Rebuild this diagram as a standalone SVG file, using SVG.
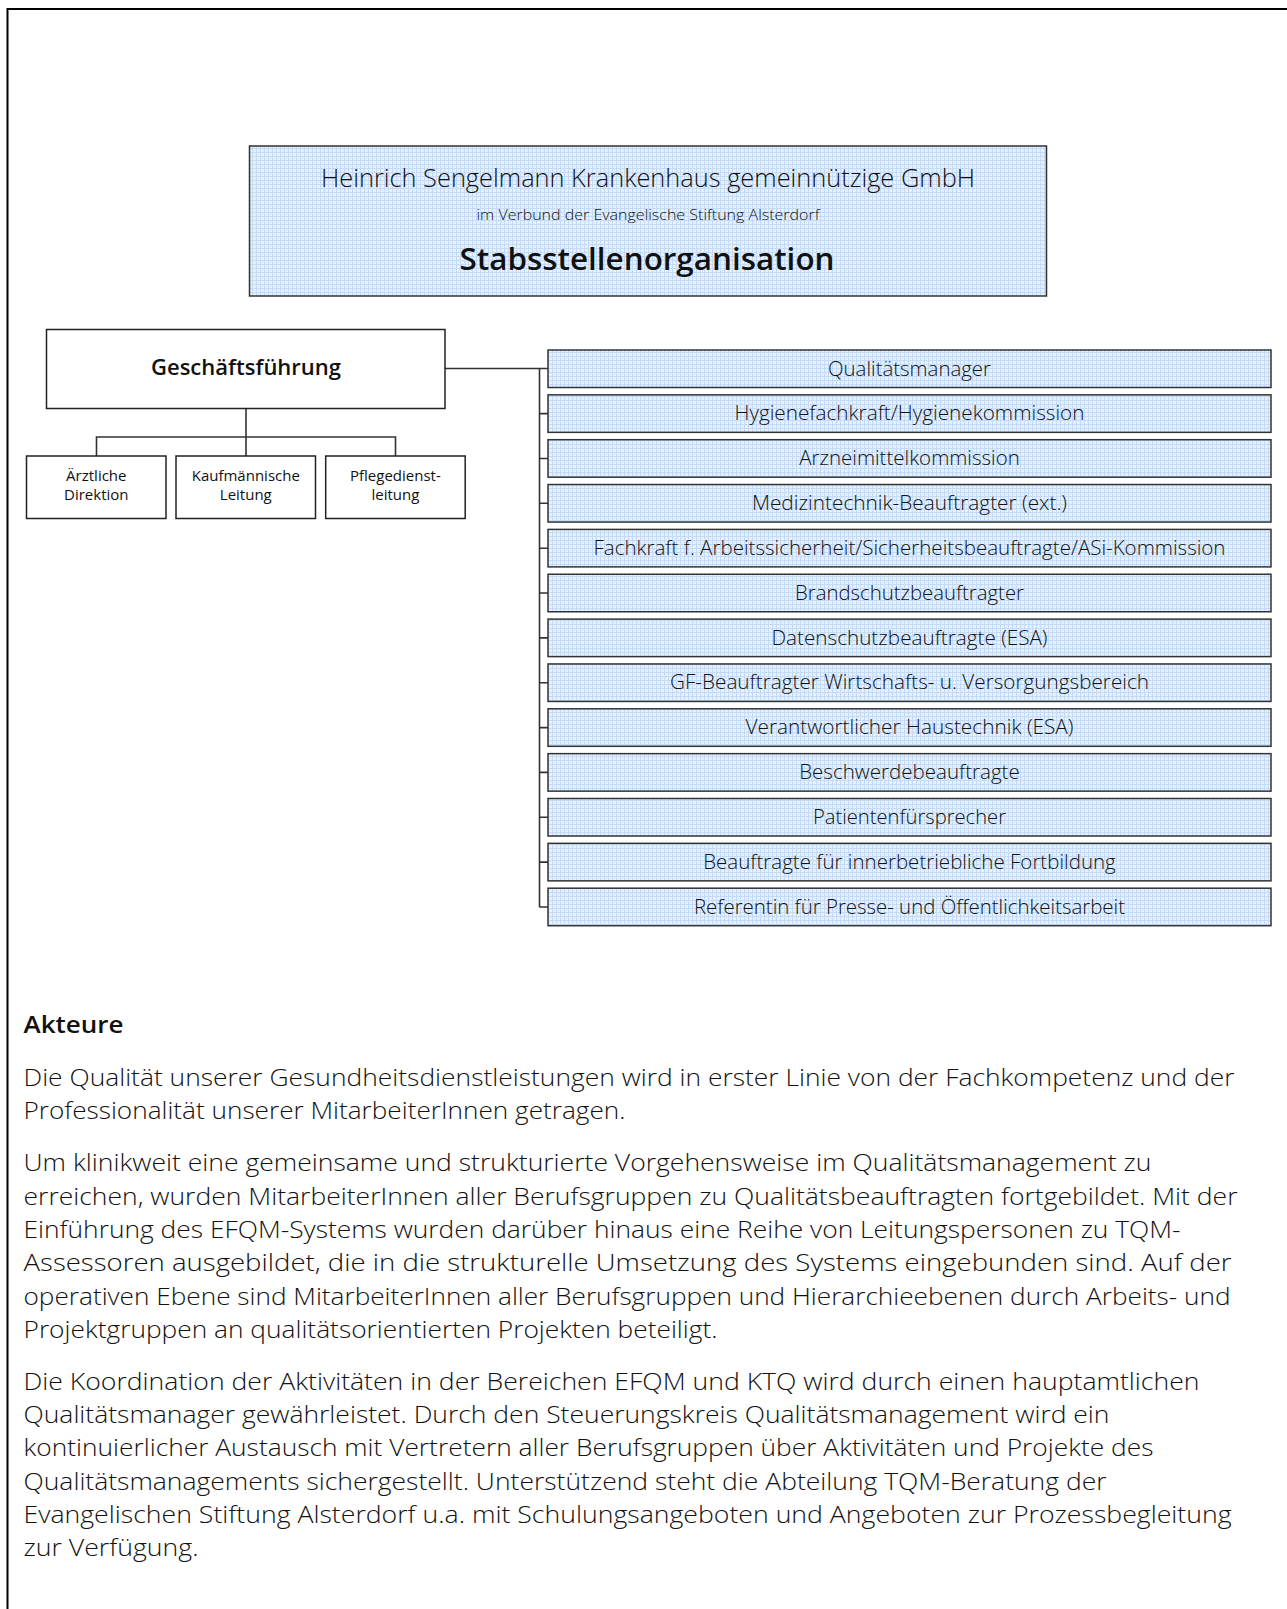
<svg xmlns="http://www.w3.org/2000/svg" width="1287" height="1609" viewBox="0 0 1287 1609">
<defs>
<pattern id="grid" width="4" height="4" patternUnits="userSpaceOnUse">
<rect width="4" height="4" fill="#e6f0fc"/>
<path d="M0 0.5H4M0.5 0V4" stroke="#c3dbf6" stroke-width="1"/>
</pattern>
</defs>
<style>
text{font-family:"Open Sans","Noto Sans","Liberation Sans",sans-serif;fill:#111}
.blue{fill:url(#grid);stroke:#333;stroke-width:1.5}
.plain{fill:#fff;stroke:#222;stroke-width:1.5}
.lbl{font-size:19.5px;text-anchor:middle;font-weight:300}
.sub{font-size:15px;text-anchor:middle}
.body{font-size:23px;font-weight:300}
.conn{stroke:#333;stroke-width:1.6;fill:none}
</style>
<rect width="1287" height="1609" fill="#fff"/>
<rect x="7.5" y="9" width="1300" height="1700" fill="none" stroke="#000" stroke-width="2"/>

<g id="header">
<rect class="blue" x="249.5" y="146" width="797" height="150"/>
<text x="648" y="187" font-size="25" font-weight="300" text-anchor="middle" textLength="654" lengthAdjust="spacingAndGlyphs">Heinrich Sengelmann Krankenhaus gemeinnützige GmbH</text>
<text x="648" y="219.5" font-size="14.5" font-weight="300" text-anchor="middle" textLength="343" lengthAdjust="spacingAndGlyphs">im Verbund der Evangelische Stiftung Alsterdorf</text>
<text x="647" y="270" font-size="31" font-weight="600" text-anchor="middle" textLength="375" lengthAdjust="spacingAndGlyphs">Stabsstellenorganisation</text>
</g>

<g id="connectors">
<path class="conn" d="M246 408.5V437M96.5 456V437H395.5V456M246 437V456"/>
<path class="conn" d="M445 368.5H548M539.5 368.5V907.2"/>
<path class="conn" d="M539.5 413.6H548M539.5 458.5H548M539.5 503.3H548M539.5 548.2H548M539.5 593H548M539.5 637.9H548M539.5 682.7H548M539.5 727.6H548M539.5 772.4H548M539.5 817.3H548M539.5 862.1H548M539.5 907H548"/>
</g>

<g id="gf">
<rect class="plain" x="46.5" y="329.5" width="398.5" height="79"/>
<text x="246" y="375" font-size="21.5" font-weight="600" text-anchor="middle" textLength="190" lengthAdjust="spacingAndGlyphs">Geschäftsführung</text>
</g>
<g id="aerztl">
<rect class="plain" x="26.5" y="456" width="139.5" height="62.5"/>
<text class="sub" x="96.3" y="481">Ärztliche</text>
<text class="sub" x="96.3" y="499.5">Direktion</text>
</g>
<g id="kaufm">
<rect class="plain" x="176" y="456" width="139.5" height="62.5"/>
<text class="sub" x="245.8" y="481">Kaufmännische</text>
<text class="sub" x="245.8" y="499.5">Leitung</text>
</g>
<g id="pflege">
<rect class="plain" x="325.7" y="456" width="139.5" height="62.5"/>
<text class="sub" x="395.4" y="481">Pflegedienst-</text>
<text class="sub" x="395.4" y="499.5">leitung</text>
</g>

<g id="s1"><rect class="blue" x="548" y="350" width="723" height="37.5"/><text class="lbl" x="909.5" y="375.5" textLength="163" lengthAdjust="spacingAndGlyphs">Qualitätsmanager</text></g>
<g id="s2"><rect class="blue" x="548" y="394.85" width="723" height="37.5"/><text class="lbl" x="909.5" y="420.35" textLength="350" lengthAdjust="spacingAndGlyphs">Hygienefachkraft/Hygienekommission</text></g>
<g id="s3"><rect class="blue" x="548" y="439.7" width="723" height="37.5"/><text class="lbl" x="909.5" y="465.2" textLength="220.6" lengthAdjust="spacingAndGlyphs">Arzneimittelkommission</text></g>
<g id="s4"><rect class="blue" x="548" y="484.55" width="723" height="37.5"/><text class="lbl" x="909.5" y="510.05" textLength="315" lengthAdjust="spacingAndGlyphs">Medizintechnik-Beauftragter (ext.)</text></g>
<g id="s5"><rect class="blue" x="548" y="529.4" width="723" height="37.5"/><text class="lbl" x="909.5" y="554.9" textLength="632" lengthAdjust="spacingAndGlyphs">Fachkraft f. Arbeitssicherheit/Sicherheitsbeauftragte/ASi-Kommission</text></g>
<g id="s6"><rect class="blue" x="548" y="574.25" width="723" height="37.5"/><text class="lbl" x="909.5" y="599.75" textLength="229" lengthAdjust="spacingAndGlyphs">Brandschutzbeauftragter</text></g>
<g id="s7"><rect class="blue" x="548" y="619.1" width="723" height="37.5"/><text class="lbl" x="909.5" y="644.6" textLength="276" lengthAdjust="spacingAndGlyphs">Datenschutzbeauftragte (ESA)</text></g>
<g id="s8"><rect class="blue" x="548" y="663.95" width="723" height="37.5"/><text class="lbl" x="909.5" y="689.45" textLength="479" lengthAdjust="spacingAndGlyphs">GF-Beauftragter Wirtschafts- u. Versorgungsbereich</text></g>
<g id="s9"><rect class="blue" x="548" y="708.8" width="723" height="37.5"/><text class="lbl" x="909.5" y="734.3" textLength="328" lengthAdjust="spacingAndGlyphs">Verantwortlicher Haustechnik (ESA)</text></g>
<g id="s10"><rect class="blue" x="548" y="753.65" width="723" height="37.5"/><text class="lbl" x="909.5" y="779.15" textLength="220.6" lengthAdjust="spacingAndGlyphs">Beschwerdebeauftragte</text></g>
<g id="s11"><rect class="blue" x="548" y="798.5" width="723" height="37.5"/><text class="lbl" x="909.5" y="824" textLength="193" lengthAdjust="spacingAndGlyphs">Patientenfürsprecher</text></g>
<g id="s12"><rect class="blue" x="548" y="843.35" width="723" height="37.5"/><text class="lbl" x="909.5" y="868.85" textLength="412.6" lengthAdjust="spacingAndGlyphs">Beauftragte für innerbetriebliche Fortbildung</text></g>
<g id="s13"><rect class="blue" x="548" y="888.2" width="723" height="37.5"/><text class="lbl" x="909.5" y="913.7" textLength="431" lengthAdjust="spacingAndGlyphs">Referentin für Presse- und Öffentlichkeitsarbeit</text></g>

<g id="text">
<text x="23.5" y="1033" font-size="24" font-weight="600" textLength="100" lengthAdjust="spacingAndGlyphs">Akteure</text>
<text class="body" x="23.5" y="1086" textLength="1211" lengthAdjust="spacingAndGlyphs">Die Qualität unserer Gesundheitsdienstleistungen wird in erster Linie von der Fachkompetenz  und der</text>
<text class="body" x="23.5" y="1119" textLength="602" lengthAdjust="spacingAndGlyphs">Professionalität unserer MitarbeiterInnen getragen.</text>
<text class="body" x="23.5" y="1171" textLength="1128" lengthAdjust="spacingAndGlyphs">Um klinikweit eine gemeinsame und strukturierte Vorgehensweise im Qualitätsmanagement zu</text>
<text class="body" x="23.5" y="1204.5" textLength="1214" lengthAdjust="spacingAndGlyphs">erreichen, wurden MitarbeiterInnen aller Berufsgruppen zu Qualitätsbeauftragten fortgebildet. Mit der</text>
<text class="body" x="23.5" y="1238" textLength="1157" lengthAdjust="spacingAndGlyphs">Einführung des EFQM-Systems wurden darüber hinaus eine Reihe von Leitungspersonen zu TQM-</text>
<text class="body" x="23.5" y="1271" textLength="1208" lengthAdjust="spacingAndGlyphs">Assessoren ausgebildet, die in die strukturelle Umsetzung des Systems eingebunden sind. Auf der</text>
<text class="body" x="23.5" y="1304.5" textLength="1207" lengthAdjust="spacingAndGlyphs">operativen Ebene sind MitarbeiterInnen aller Berufsgruppen und Hierarchieebenen durch Arbeits- und</text>
<text class="body" x="23.5" y="1338" textLength="694" lengthAdjust="spacingAndGlyphs">Projektgruppen an qualitätsorientierten Projekten beteiligt.</text>
<text class="body" x="23.5" y="1389.5" textLength="1176" lengthAdjust="spacingAndGlyphs">Die Koordination der Aktivitäten in der Bereichen EFQM und KTQ wird durch einen hauptamtlichen</text>
<text class="body" x="23.5" y="1423" textLength="1086" lengthAdjust="spacingAndGlyphs">Qualitätsmanager gewährleistet. Durch den Steuerungskreis Qualitätsmanagement wird ein</text>
<text class="body" x="23.5" y="1456" textLength="1130" lengthAdjust="spacingAndGlyphs">kontinuierlicher Austausch mit Vertretern aller Berufsgruppen über Aktivitäten und Projekte des</text>
<text class="body" x="23.5" y="1489.5" textLength="1083" lengthAdjust="spacingAndGlyphs">Qualitätsmanagements sichergestellt. Unterstützend steht die Abteilung TQM-Beratung der</text>
<text class="body" x="23.5" y="1523" textLength="1208" lengthAdjust="spacingAndGlyphs">Evangelischen Stiftung Alsterdorf u.a. mit Schulungsangeboten und Angeboten zur Prozessbegleitung</text>
<text class="body" x="23.5" y="1556" textLength="175" lengthAdjust="spacingAndGlyphs">zur Verfügung.</text>
</g>
</svg>
